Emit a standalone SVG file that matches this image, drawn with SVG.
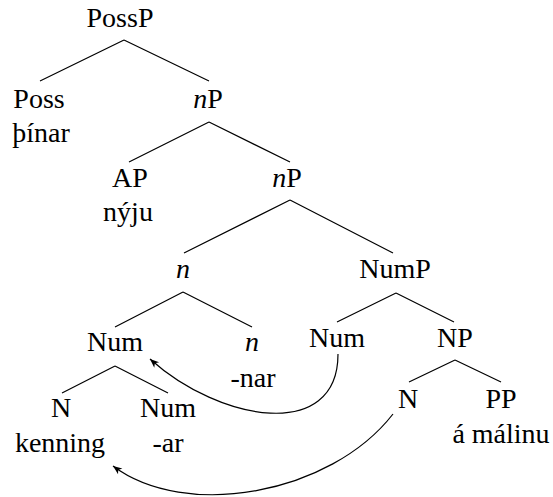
<svg xmlns="http://www.w3.org/2000/svg" width="553" height="497" viewBox="0 0 553 497">
<defs>
<marker id="ah" viewBox="-10 -5 12 10" refX="0" refY="0" markerWidth="12" markerHeight="10" markerUnits="userSpaceOnUse" orient="auto">
<path d="M0,0 L-9,-3.6 L-6.5,0 L-9,3.6 Z" fill="#000"/>
</marker>
</defs>
<rect width="553" height="497" fill="#fff"/>
<g id="connectors" stroke="#000" stroke-width="1.2" fill="none">
<path d="M124,40 L40,81 M124,40 L209,81"/>
<path d="M209,122 L129,162 M209,122 L290,162"/>
<path d="M290,200 L184,253 M290,200 L393,253"/>
<path d="M396,293 L337,322 M396,293 L454,322"/>
<path d="M183,292 L115,327 M183,292 L252,327"/>
<path d="M455,360 L409,382 M455,360 L501,382"/>
<path d="M115,366 L62,393 M115,366 L168,393"/>
<path d="M338,354 C338,442 220,422 150,359" marker-end="url(#ah)"/>
<path d="M393,414 C330,495 185,520 113,466" marker-end="url(#ah)"/>
</g>
<g id="PossP"><text style="font-family:'Liberation Serif',serif;font-size:28px" text-anchor="middle" x="120" y="27">PossP</text></g>
<g id="Poss"><text style="font-family:'Liberation Serif',serif;font-size:28px" text-anchor="middle" x="39" y="108">Poss</text><text style="font-family:'Liberation Serif',serif;font-size:28px" text-anchor="middle" x="41" y="142">þínar</text></g>
<g id="nP1"><text style="font-family:'Liberation Serif',serif;font-size:28px" text-anchor="middle" x="208" y="108"><tspan style="font-style:italic">n</tspan>P</text></g>
<g id="AP"><text style="font-family:'Liberation Serif',serif;font-size:28px" text-anchor="middle" x="130" y="187">AP</text><text style="font-family:'Liberation Serif',serif;font-size:28px" text-anchor="middle" x="128" y="221">nýju</text></g>
<g id="nP2"><text style="font-family:'Liberation Serif',serif;font-size:28px" text-anchor="middle" x="287" y="187"><tspan style="font-style:italic">n</tspan>P</text></g>
<g id="n1"><text style="font-family:'Liberation Serif',serif;font-size:28px;font-style:italic" text-anchor="middle" x="183" y="278">n</text></g>
<g id="NumP"><text style="font-family:'Liberation Serif',serif;font-size:28px" text-anchor="middle" x="395" y="278">NumP</text></g>
<g id="Num1"><text style="font-family:'Liberation Serif',serif;font-size:28px" text-anchor="middle" x="115" y="351">Num</text></g>
<g id="n2"><text style="font-family:'Liberation Serif',serif;font-size:28px;font-style:italic" text-anchor="middle" x="252" y="351">n</text><text style="font-family:'Liberation Serif',serif;font-size:28px" text-anchor="middle" x="253" y="387">-nar</text></g>
<g id="Num2"><text style="font-family:'Liberation Serif',serif;font-size:28px" text-anchor="middle" x="337" y="347">Num</text></g>
<g id="NP"><text style="font-family:'Liberation Serif',serif;font-size:28px" text-anchor="middle" x="455" y="347">NP</text></g>
<g id="N1"><text style="font-family:'Liberation Serif',serif;font-size:28px" text-anchor="middle" x="61" y="417">N</text><text style="font-family:'Liberation Serif',serif;font-size:28px" text-anchor="middle" x="60" y="452">kenning</text></g>
<g id="Num3"><text style="font-family:'Liberation Serif',serif;font-size:28px" text-anchor="middle" x="168" y="417">Num</text><text style="font-family:'Liberation Serif',serif;font-size:28px" text-anchor="middle" x="168" y="452">-ar</text></g>
<g id="N2"><text style="font-family:'Liberation Serif',serif;font-size:28px" text-anchor="middle" x="408" y="408">N</text></g>
<g id="PP"><text style="font-family:'Liberation Serif',serif;font-size:28px" text-anchor="middle" x="501" y="408">PP</text><text style="font-family:'Liberation Serif',serif;font-size:28px" text-anchor="middle" x="501" y="443">á málinu</text></g>
</svg>
